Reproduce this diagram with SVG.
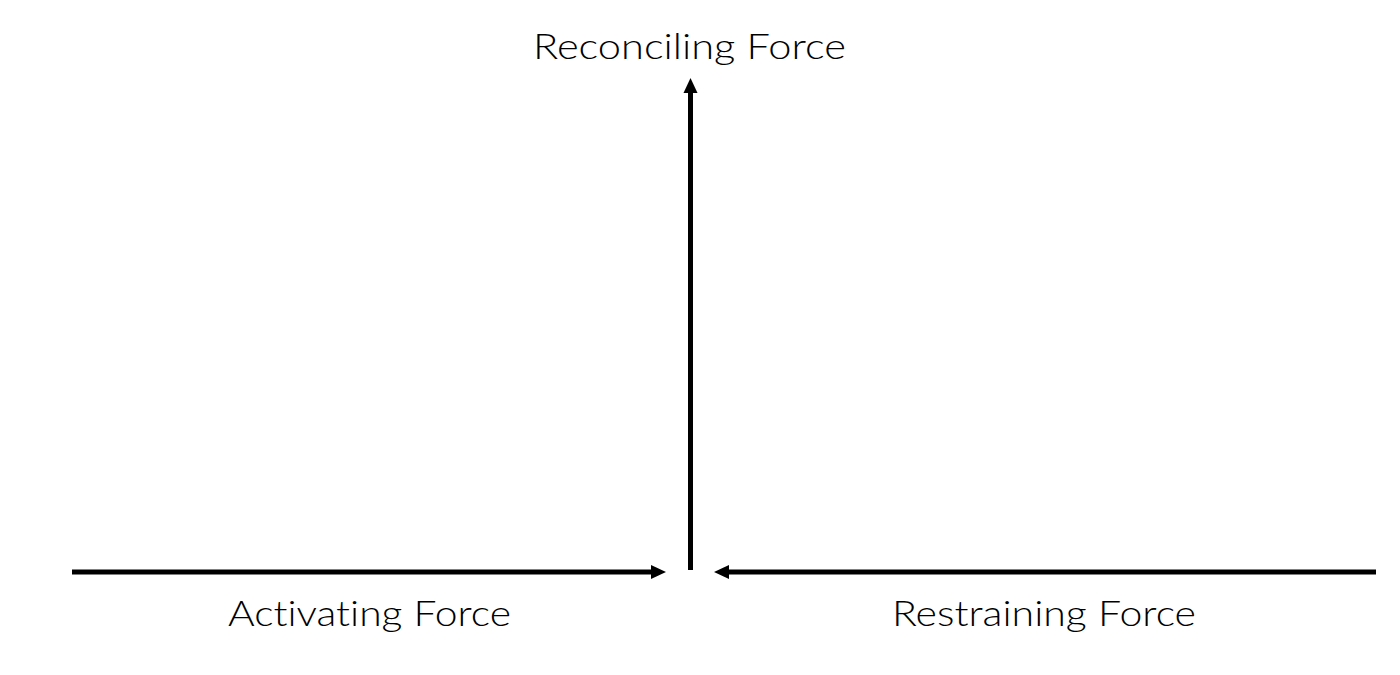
<svg xmlns="http://www.w3.org/2000/svg" width="1400" height="675" viewBox="0 0 1400 675">
<style>
.lbl{font-family:Lato,"Noto Sans","Liberation Sans",sans-serif;font-size:36px;font-weight:300;font-variant-ligatures:none;fill:#000}
.ln{stroke:#000;stroke-width:5;fill:none}
.hd{fill:#000}
</style>
<rect width="1400" height="675" fill="#fff"/>
<g id="connectors">
<line class="ln" x1="690.5" y1="570" x2="690.5" y2="90"/>
<polygon class="hd" points="690.5,78 683.5,93 697.5,93"/>
<line class="ln" x1="72" y1="572" x2="654" y2="572"/>
<polygon class="hd" points="666,572 651,565 651,579"/>
<line class="ln" x1="1376" y1="572" x2="726" y2="572"/>
<polygon class="hd" points="714,572 729,565 729,579"/>
</g>
<g id="reconciling"><text class="lbl" x="533" y="59" textLength="313" lengthAdjust="spacingAndGlyphs">Reconciling Force</text></g>
<g id="activating"><text class="lbl" x="228" y="626" textLength="283" lengthAdjust="spacingAndGlyphs">Activating Force</text></g>
<g id="restraining"><text class="lbl" x="892" y="626" textLength="304" lengthAdjust="spacingAndGlyphs">Restraining Force</text></g>
</svg>
